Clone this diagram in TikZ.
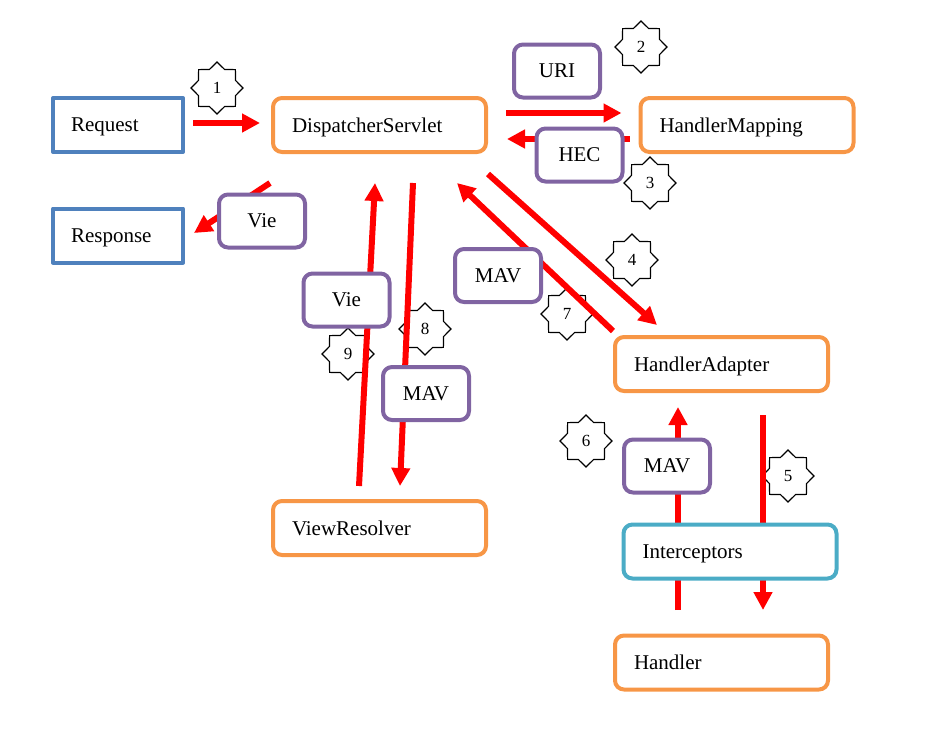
\documentclass[tikz,border=0pt]{standalone}
\usepackage{fontspec}
\setmainfont{Liberation Serif}
\usetikzlibrary{arrows.meta,positioning,calc,shapes.geometric}
\definecolor{boxorange}{RGB}{247,150,70}
\definecolor{boxblue}{RGB}{79,129,189}
\definecolor{boxpurple}{RGB}{128,100,162}
\definecolor{boxteal}{RGB}{75,172,198}
\newcommand \mystep[3]
{
\node[stepstar] (s#1) at (#2,#3) {#1};
}

\begin{document}
\begin{tikzpicture}[x=1pt, y=-1pt, line join=round,
  every node/.style={font=\fontsize{21}{25}\selectfont},
  endbox/.style={draw=boxblue, line width=4pt, fill=white, minimum height=54pt, text width=94pt, text depth=0pt, inner xsep=18pt, align=left},
  partbox/.style={draw=boxorange, line width=4pt, rounded corners=9pt, fill=white, minimum height=54pt, text width=175pt, text depth=0pt, inner xsep=19pt, align=left},
  databox/.style={draw=boxpurple, line width=4pt, rounded corners=9pt, fill=white, minimum width=86pt, minimum height=53pt, inner sep=0pt},
  stepstar/.style={star, star points=8, star point ratio=1.3, minimum size=52pt, inner sep=0pt, draw, line width=1.2pt, line join=miter, fill=white, font=\fontsize{17}{19}\selectfont},
  flow/.style={draw=red, line width=6pt, -{Triangle[length=18pt,width=18pt]}},
]
\useasboundingbox (0,0) rectangle (948,737);
% steps
\mystep{1}{217}{88}
\mystep{2}{641}{47}
\mystep{3}{650}{183}
\mystep{4}{632}{260}
\mystep{5}{788}{476}
\mystep{6}{586}{441}
\mystep{7}{567}{314}
\mystep{8}{425}{329}
\mystep{9}{348}{354}
% components
\node[endbox]  (req)  at (118,125)     {Request};
\node[endbox]  (resp) at (118,235.5)   {Response};
\node[partbox] (ds)   at (379.5,125)   {DispatcherServlet};
\node[partbox] (hm)   at (747,125)     {HandlerMapping};
\node[partbox] (ha)   at (721.5,364)   {HandlerAdapter};
\node[partbox] (vr)   at (379.5,528)   {ViewResolver};
\node[partbox] (hdl)  at (721.5,662.5) {Handler};
% flows
\draw[flow] ($(req.east)+(8,-2)$)        -- ($(ds.west)+(-11,-2)$);
\draw[flow] ($(ds.east)+(18,-12)$)       -- ($(hm.west)+(-17,-12)$);
\draw[flow] ($(hm.west)+(-9,14)$)        -- ($(ds.east)+(19,14)$);
\draw[flow] ($(ds.south east)+(0,20)$)   -- ($(ha.north west)+(44,-10)$);
\draw[flow] ($(ha.north west)+(0,-4)$)   -- ($(ds.south east)+(-31,29)$);
\draw[flow] ($(ds.south west)+(-1,29)$)  -- ($(resp.east)+(9,-2.5)$);
\draw[flow] ($(ds.south)+(33.5,29)$)     -- ($(vr.north)+(20.5,-13)$);
\draw[flow] ($(vr.north)+(-20.5,-13)$)   -- ($(ds.south)+(-4.5,29)$);
\draw[flow] ($(hdl.north)+(-43.5,-23.5)$) -- ($(ha.south)+(-43.5,14)$);
\draw[flow] ($(ha.south)+(41.5,22)$)     -- ($(hdl.north)+(41.5,-23.5)$);
\node[partbox, draw=boxteal] (icp) at (730,551.5) {Interceptors};
% data
\node[databox] (uri)  at (557,71)     {URI};
\node[databox] (hec)  at (579.5,155)  {HEC};
\node[databox] (vie1) at (262,221)    {Vie};
\node[databox] (vie2) at (346.5,300)  {Vie};
\node[databox] (mav1) at (498,275.5)  {MAV};
\node[databox] (mav2) at (426,393.5)  {MAV};
\node[databox] (mav3) at (667,466)    {MAV};
\end{tikzpicture}
\end{document}
